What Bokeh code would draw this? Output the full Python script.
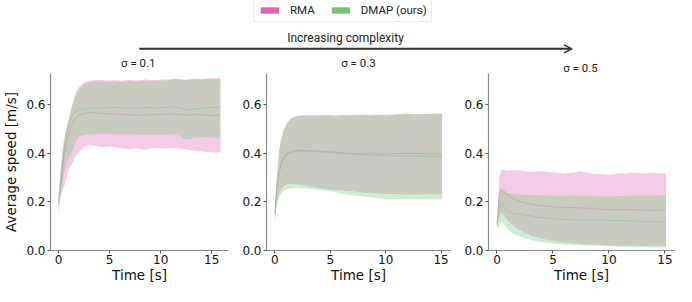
from bokeh.plotting import figure
from bokeh.layouts import column, row
from bokeh.models import (Range1d, Legend, LegendItem, Label, Arrow, OpenHead,
                          FixedTicker, PrintfTickFormatter)
from bokeh.embed import file_html
from bokeh.resources import INLINE

# ---------------- data ----------------
PANEL_TITLES = ["σ = 0.1", "σ = 0.3", "σ = 0.5"]
X_TICKS = [0, 5, 10, 15]
Y_TICKS = [0.0, 0.2, 0.4, 0.6]
LEGEND_LABELS = ["RMA", "DMAP (ours)"]

time_s1 = [0, 0.2, 0.4, 0.6, 0.8, 1.0, 1.25, 1.5, 1.75, 2.0, 2.5, 3.0, 3.5, 4.0, 4.5, 5.0,
           5.5, 6.0, 6.5, 7.0, 7.5, 8.0, 8.5, 9.0, 9.5, 10.0, 10.5, 11.0, 11.5, 12.0,
           12.5, 13.0, 13.5, 14.0, 14.5, 15.0, 15.5, 15.85]
time_s23 = [0, 0.2, 0.4, 0.6, 0.8, 1.0, 1.25, 1.5, 1.75, 2.0, 2.5, 3.0, 3.5, 4.0, 4.5, 5.0,
            5.5, 6.0, 6.5, 7.0, 7.5, 8.0, 8.5, 9.0, 9.5, 10.0, 10.5, 11.0, 11.5, 12.0,
            12.5, 13.0, 13.5, 14.0, 14.5, 15.1]

# sigma = 0.1
rma1_hi = [0.23, 0.33, 0.42, 0.47, 0.51, 0.545, 0.585, 0.625, 0.655, 0.672, 0.690, 0.697, 0.700, 0.701, 0.699, 0.698, 0.700, 0.697, 0.699, 0.701, 0.698, 0.700, 0.702, 0.700, 0.699, 0.703, 0.701, 0.702, 0.704, 0.703, 0.702, 0.705, 0.706, 0.704, 0.707, 0.708, 0.709, 0.708]
rma1_mu = [0.20, 0.27, 0.34, 0.40, 0.445, 0.48, 0.51, 0.535, 0.548, 0.556, 0.563, 0.566, 0.566, 0.564, 0.562, 0.561, 0.560, 0.559, 0.558, 0.557, 0.556, 0.556, 0.557, 0.558, 0.557, 0.559, 0.560, 0.561, 0.559, 0.557, 0.556, 0.557, 0.558, 0.557, 0.556, 0.555, 0.556, 0.556]
rma1_lo = [0.19, 0.23, 0.25, 0.27, 0.30, 0.335, 0.35, 0.37, 0.39, 0.405, 0.425, 0.433, 0.430, 0.427, 0.425, 0.428, 0.424, 0.420, 0.418, 0.416, 0.420, 0.417, 0.414, 0.418, 0.421, 0.420, 0.419, 0.422, 0.420, 0.418, 0.415, 0.412, 0.410, 0.408, 0.405, 0.404, 0.402, 0.406]
dmap1_hi = [0.21, 0.32, 0.41, 0.46, 0.50, 0.535, 0.575, 0.615, 0.645, 0.664, 0.683, 0.690, 0.693, 0.692, 0.694, 0.692, 0.694, 0.695, 0.693, 0.696, 0.694, 0.695, 0.697, 0.696, 0.698, 0.697, 0.699, 0.703, 0.706, 0.700, 0.699, 0.701, 0.702, 0.701, 0.703, 0.704, 0.703, 0.705]
dmap1_mu = [0.19, 0.28, 0.36, 0.43, 0.48, 0.515, 0.545, 0.565, 0.573, 0.577, 0.582, 0.584, 0.585, 0.586, 0.586, 0.587, 0.588, 0.587, 0.586, 0.585, 0.586, 0.586, 0.587, 0.587, 0.586, 0.587, 0.588, 0.589, 0.590, 0.585, 0.578, 0.580, 0.582, 0.584, 0.585, 0.587, 0.588, 0.588]
dmap1_lo = [0.15, 0.22, 0.28, 0.33, 0.36, 0.38, 0.40, 0.425, 0.455, 0.468, 0.474, 0.476, 0.478, 0.478, 0.479, 0.478, 0.477, 0.476, 0.478, 0.477, 0.475, 0.476, 0.477, 0.475, 0.474, 0.476, 0.475, 0.477, 0.476, 0.468, 0.455, 0.460, 0.463, 0.464, 0.465, 0.464, 0.463, 0.465]

# sigma = 0.3
rma2_hi = [0.17, 0.32, 0.42, 0.465, 0.495, 0.515, 0.532, 0.542, 0.548, 0.551, 0.554, 0.553, 0.555, 0.554, 0.556, 0.555, 0.553, 0.556, 0.557, 0.555, 0.556, 0.558, 0.556, 0.557, 0.559, 0.557, 0.558, 0.560, 0.559, 0.561, 0.560, 0.559, 0.561, 0.562, 0.563, 0.562]
rma2_mu = [0.15, 0.27, 0.33, 0.365, 0.385, 0.395, 0.402, 0.406, 0.409, 0.411, 0.412, 0.411, 0.409, 0.408, 0.407, 0.406, 0.404, 0.402, 0.400, 0.399, 0.398, 0.398, 0.399, 0.398, 0.397, 0.397, 0.398, 0.398, 0.399, 0.400, 0.399, 0.398, 0.397, 0.398, 0.397, 0.396]
rma2_lo = [0.13, 0.20, 0.235, 0.255, 0.265, 0.270, 0.272, 0.273, 0.273, 0.272, 0.270, 0.265, 0.260, 0.256, 0.253, 0.250, 0.248, 0.247, 0.245, 0.243, 0.240, 0.238, 0.236, 0.235, 0.234, 0.233, 0.232, 0.232, 0.231, 0.230, 0.231, 0.230, 0.231, 0.232, 0.230, 0.231]
dmap2_hi = [0.16, 0.31, 0.41, 0.46, 0.495, 0.515, 0.533, 0.544, 0.550, 0.553, 0.556, 0.555, 0.557, 0.556, 0.558, 0.557, 0.555, 0.557, 0.556, 0.558, 0.559, 0.557, 0.556, 0.558, 0.557, 0.556, 0.558, 0.559, 0.562, 0.564, 0.561, 0.560, 0.562, 0.561, 0.562, 0.563]
dmap2_mu = [0.15, 0.26, 0.32, 0.355, 0.378, 0.39, 0.398, 0.403, 0.406, 0.407, 0.408, 0.407, 0.406, 0.405, 0.404, 0.403, 0.401, 0.399, 0.397, 0.395, 0.393, 0.392, 0.391, 0.391, 0.390, 0.390, 0.389, 0.389, 0.388, 0.388, 0.388, 0.387, 0.387, 0.386, 0.386, 0.385]
dmap2_lo = [0.12, 0.19, 0.22, 0.235, 0.245, 0.25, 0.254, 0.256, 0.257, 0.258, 0.257, 0.255, 0.252, 0.249, 0.246, 0.242, 0.238, 0.234, 0.230, 0.227, 0.224, 0.222, 0.219, 0.216, 0.214, 0.212, 0.212, 0.211, 0.212, 0.211, 0.210, 0.210, 0.209, 0.210, 0.209, 0.210]

# sigma = 0.5
rma3_hi = [0.10, 0.30, 0.33, 0.332, 0.33, 0.328, 0.33, 0.331, 0.329, 0.33, 0.327, 0.322, 0.324, 0.326, 0.322, 0.32, 0.318, 0.315, 0.318, 0.321, 0.326, 0.32, 0.316, 0.314, 0.312, 0.31, 0.313, 0.317, 0.316, 0.32, 0.318, 0.316, 0.318, 0.319, 0.316, 0.318]
rma3_mu = [0.11, 0.22, 0.245, 0.238, 0.232, 0.226, 0.218, 0.212, 0.206, 0.202, 0.196, 0.19, 0.187, 0.184, 0.182, 0.18, 0.178, 0.177, 0.176, 0.176, 0.175, 0.174, 0.172, 0.17, 0.169, 0.168, 0.168, 0.168, 0.168, 0.168, 0.167, 0.166, 0.166, 0.165, 0.165, 0.168]
rma3_lo = [0.10, 0.14, 0.155, 0.145, 0.132, 0.12, 0.11, 0.10, 0.093, 0.085, 0.072, 0.062, 0.055, 0.048, 0.044, 0.040, 0.036, 0.033, 0.031, 0.029, 0.027, 0.026, 0.025, 0.023, 0.022, 0.021, 0.020, 0.020, 0.019, 0.019, 0.018, 0.018, 0.018, 0.019, 0.019, 0.020]
dmap3_hi = [0.11, 0.24, 0.262, 0.25, 0.242, 0.236, 0.233, 0.231, 0.230, 0.23, 0.229, 0.228, 0.227, 0.226, 0.226, 0.225, 0.224, 0.225, 0.226, 0.225, 0.224, 0.225, 0.224, 0.223, 0.222, 0.222, 0.223, 0.224, 0.224, 0.225, 0.225, 0.226, 0.225, 0.226, 0.227, 0.228]
dmap3_mu = [0.10, 0.17, 0.195, 0.18, 0.168, 0.16, 0.156, 0.153, 0.151, 0.15, 0.146, 0.142, 0.138, 0.135, 0.132, 0.13, 0.129, 0.128, 0.127, 0.126, 0.125, 0.125, 0.125, 0.124, 0.124, 0.124, 0.123, 0.123, 0.122, 0.121, 0.12, 0.12, 0.119, 0.119, 0.118, 0.12]
dmap3_lo = [0.09, 0.10, 0.12, 0.11, 0.095, 0.085, 0.076, 0.068, 0.062, 0.057, 0.05, 0.044, 0.038, 0.034, 0.031, 0.029, 0.027, 0.025, 0.024, 0.023, 0.022, 0.021, 0.02, 0.019, 0.018, 0.017, 0.016, 0.015, 0.015, 0.014, 0.013, 0.013, 0.012, 0.012, 0.012, 0.013]

# ---------------- style ----------------
PINK = "#df65b0"
GREEN = "#74c476"
BAND_ALPHA = 0.33
LINE_ALPHA = 0.4
SPINE = "#8a8a8a"
TXT_FONT = "Roboto"
AX_FONT = "DejaVu Sans"
Y_MAX = 0.727
PANEL_H = 213
HEADER_H = 73


def panel(t, r_lo, r_mu, r_hi, d_lo, d_mu, d_hi, width, mbl, mbr, ylabel):
    span = t[-1] - t[0]
    p = figure(width=width, height=PANEL_H,
               x_range=Range1d(t[0] - 0.05 * span, t[-1] + 0.05 * span),
               y_range=Range1d(0, Y_MAX),
               min_border_left=mbl, min_border_right=mbr,
               min_border_top=0, min_border_bottom=36,
               toolbar_location=None, output_backend="svg")
    p.outline_line_color = None
    p.grid.visible = False
    p.background_fill_color = "white"
    p.border_fill_color = "white"

    p.varea(x=t, y1=r_lo, y2=r_hi, fill_color=PINK, fill_alpha=BAND_ALPHA)
    p.line(x=t, y=r_mu, line_color=PINK, line_alpha=LINE_ALPHA, line_width=1)
    p.varea(x=t, y1=d_lo, y2=d_hi, fill_color=GREEN, fill_alpha=BAND_ALPHA)
    p.line(x=t, y=d_mu, line_color=GREEN, line_alpha=LINE_ALPHA, line_width=1)

    p.xaxis.ticker = FixedTicker(ticks=X_TICKS)
    p.yaxis.ticker = FixedTicker(ticks=Y_TICKS)
    p.yaxis.formatter = PrintfTickFormatter(format="%.1f")
    p.xaxis.axis_label = "Time [s]"
    if ylabel:
        p.yaxis.axis_label = ylabel
    for ax in (p.xaxis[0], p.yaxis[0]):
        ax.axis_line_color = SPINE
        ax.axis_line_width = 1.2
        ax.major_tick_line_color = "#555555"
        ax.major_tick_in = 0
        ax.major_tick_out = 3
        ax.minor_tick_line_color = None
        ax.major_label_text_font = AX_FONT
        ax.major_label_text_font_size = "12px"
        ax.major_label_text_color = "#111111"
        ax.axis_label_text_font = AX_FONT
        ax.axis_label_text_font_size = "13.5px"
        ax.axis_label_text_font_style = "normal"
        ax.axis_label_text_color = "#111111"
    p.xaxis.major_label_standoff = 1
    p.xaxis.axis_label_standoff = 0
    p.yaxis.major_label_standoff = 2
    p.yaxis.axis_label_standoff = 4
    return p


p1 = panel(time_s1, rma1_lo, rma1_mu, rma1_hi, dmap1_lo, dmap1_mu, dmap1_hi,
           238, 44, 10, "Average speed [m/s]")
p2 = panel(time_s23, rma2_lo, rma2_mu, rma2_hi, dmap2_lo, dmap2_mu, dmap2_hi,
           222, 28, 10, None)
p3 = panel(time_s23, rma3_lo, rma3_mu, rma3_hi, dmap3_lo, dmap3_mu, dmap3_hi,
           216, 28, 2, None)

# ---------------- header (legend, arrow, titles) ----------------
h = figure(width=676, height=HEADER_H, x_range=Range1d(0, 676), y_range=Range1d(HEADER_H, 0),
           x_axis_type=None, y_axis_type=None, min_border=0,
           toolbar_location=None, output_backend="svg")
h.outline_line_color = None
h.grid.visible = False

# legend proxies, placed outside the visible header range
r_pink = h.quad(left=[-30], right=[-20], top=[-30], bottom=[-20], fill_color=PINK, line_color=None)
r_green = h.quad(left=[-30], right=[-20], top=[-30], bottom=[-20], fill_color=GREEN, line_color=None)
legend = Legend(items=[LegendItem(label=LEGEND_LABELS[0], renderers=[r_pink]),
                       LegendItem(label=LEGEND_LABELS[1], renderers=[r_green])],
                orientation="horizontal", location=(253, HEADER_H - 22),
                padding=4, margin=0, spacing=14, label_standoff=9,
                glyph_width=23, glyph_height=8, label_height=13,
                label_text_font=TXT_FONT, label_text_font_size="11.5px",
                label_text_color="#222222",
                border_line_color="#d8d8d8", border_line_width=1,
                background_fill_color="white", background_fill_alpha=1)
h.add_layout(legend, "center")

h.add_layout(Label(x=345, y=37, text="Increasing complexity", text_align="center",
                   text_baseline="middle", text_font=TXT_FONT, text_font_size="12px",
                   text_color="#222222"))
h.add_layout(Arrow(x_start=138.7, y_start=48.3, x_end=571.5, y_end=48.3,
                   line_color="#333333", line_width=2,
                   end=OpenHead(size=8, line_width=1.5, line_color="#333333")))
for tx, ty, s in zip([137.8, 358.0, 580.0], [62.5, 62.5, 67.0], PANEL_TITLES):
    h.add_layout(Label(x=tx, y=ty, text=s, text_align="center", text_baseline="middle",
                       text_font=TXT_FONT, text_font_size="11.5px", text_color="#222222"))

layout = column(h, row(p1, p2, p3, spacing=0), spacing=0)
open("out.html", "w").write(file_html(layout, INLINE))
